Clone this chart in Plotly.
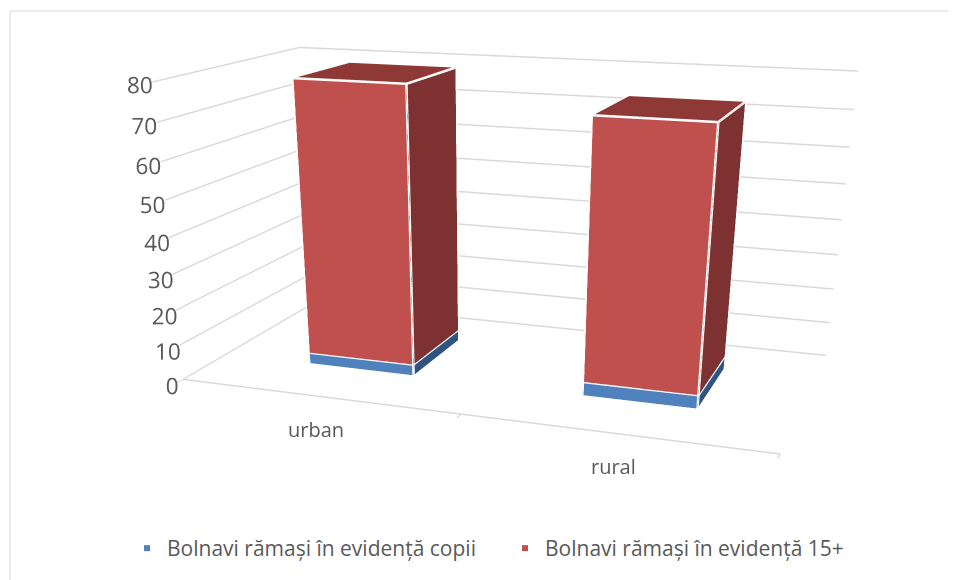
import plotly.graph_objects as go

categories = ['urban', 'rural']
copii = [3.2, 3.8]
adulti = [75.9, 70.0]
y_ticks = [0, 10, 20, 30, 40, 50, 60, 70, 80]
series_names = ['Bolnavi rămași în evidență copii', 'Bolnavi rămași în evidență 15+']

# front, right, top colours for each series
blue = ['#4f81bd', '#2f5480', '#3f6a9c']
red = ['#c0504d', '#7d3130', '#8f3937']

# bar placement inside the category axis
bar_left = [0.326, 1.313]
bar_right = [0.714, 1.69]
bar_front = 0.302
bar_back = 0.728

# taller than the window: the gl camera has a fixed field of view that scales with scene height
FIG_HEIGHT = 1160


def py(px):
    return 1 - px / FIG_HEIGHT


def box(x0, x1, z0, z1, colors):
    y0, y1 = bar_front, bar_back
    xs = [x0, x1, x1, x0, x0, x1, x1, x0]
    ys = [y0, y0, y1, y1, y0, y0, y1, y1]
    zs = [z0, z0, z0, z0, z1, z1, z1, z1]
    faces = [(0, 1, 5, colors[0]), (0, 5, 4, colors[0]),
             (1, 2, 6, colors[1]), (1, 6, 5, colors[1]),
             (4, 5, 6, colors[2]), (4, 6, 7, colors[2])]
    mesh = go.Mesh3d(
        x=xs, y=ys, z=zs,
        i=[f[0] for f in faces], j=[f[1] for f in faces], k=[f[2] for f in faces],
        facecolor=[f[3] for f in faces],
        flatshading=True, hoverinfo='skip', showlegend=False,
        lighting=dict(ambient=1, diffuse=0, specular=0, fresnel=0),
    )
    # white outlines of the visible faces
    order = [0, 1, 5, 4, 0, None, 1, 2, 6, 5, None, 4, 7, 6]
    edges = go.Scatter3d(
        x=[None if n is None else xs[n] for n in order],
        y=[None if n is None else ys[n] for n in order],
        z=[None if n is None else zs[n] for n in order],
        mode='lines', line=dict(color='white', width=5),
        hoverinfo='skip', showlegend=False,
    )
    return [mesh, edges]


fig = go.Figure()

for idx in range(len(categories)):
    for trace in box(bar_left[idx], bar_right[idx], 0, copii[idx], blue):
        fig.add_trace(trace)
    for trace in box(bar_left[idx], bar_right[idx], copii[idx], copii[idx] + adulti[idx], red):
        fig.add_trace(trace)

# legend entries
for name, col in zip(series_names, [blue[0], red[0]]):
    fig.add_trace(go.Scatter3d(x=[None], y=[None], z=[None], mode='markers', name=name,
                               marker=dict(color=col, size=6, symbol='square')))

axis_font = dict(family='Open Sans, Noto Sans, sans-serif', size=20, color='#595959')

fig.update_layout(
    width=956, height=FIG_HEIGHT,
    margin=dict(l=0, r=0, t=0, b=0),
    paper_bgcolor='white',
    font=axis_font,
    legend=dict(orientation='h', x=0.1245, xanchor='left', y=py(520), yanchor='top',
                entrywidth=333, entrywidthmode='pixels',
                font=dict(size=21, color='#595959')),
    shapes=[dict(type='rect', xref='paper', yref='paper', x0=2 / 956, x1=1.02, y0=-0.02, y1=py(3),
                 line=dict(color='#d9d9d9', width=1))],
    scene=dict(
        domain=dict(x=[0, 1], y=[0, 1]),
        aspectmode='manual',
        aspectratio=dict(x=2.1083, y=1.0516, z=1.0),
        camera=dict(eye=dict(x=1.5686, y=-4.6385, z=1.1056), center=dict(x=0.1013, y=-0.563, z=-1.1132),
                    projection=dict(type='perspective')),
        xaxis=dict(range=[0, 2], tickvals=[0, 1, 2], ticktext=['', '', ''], showgrid=False,
                   showbackground=False, showline=True, linecolor='#d9d9d9', linewidth=3,
                   ticks='outside', ticklen=6, tickcolor='#d9d9d9', tickwidth=3,
                   title=dict(text=''), zeroline=False),
        yaxis=dict(range=[0, 1], showticklabels=False, showgrid=False, ticks='',
                   showbackground=False, showline=False, title=dict(text=''), zeroline=False),
        zaxis=dict(range=[0, 80], tickvals=y_ticks, showgrid=True, gridcolor='#d9d9d9', gridwidth=3,
                   showbackground=False, showline=False, ticks='', title=dict(text=''), zeroline=False,
                   tickangle=0, ticksuffix='\u00a0\u00a0',
                   tickfont=dict(family='Open Sans, Noto Sans, sans-serif', size=16.5, color='#595959')),
        annotations=[dict(x=i + 0.5, y=0, z=0, text=c, showarrow=False, yshift=-33, xshift=-1,
                          font=axis_font) for i, c in enumerate(categories)],
    ),
)

fig.write_html("out.html")
